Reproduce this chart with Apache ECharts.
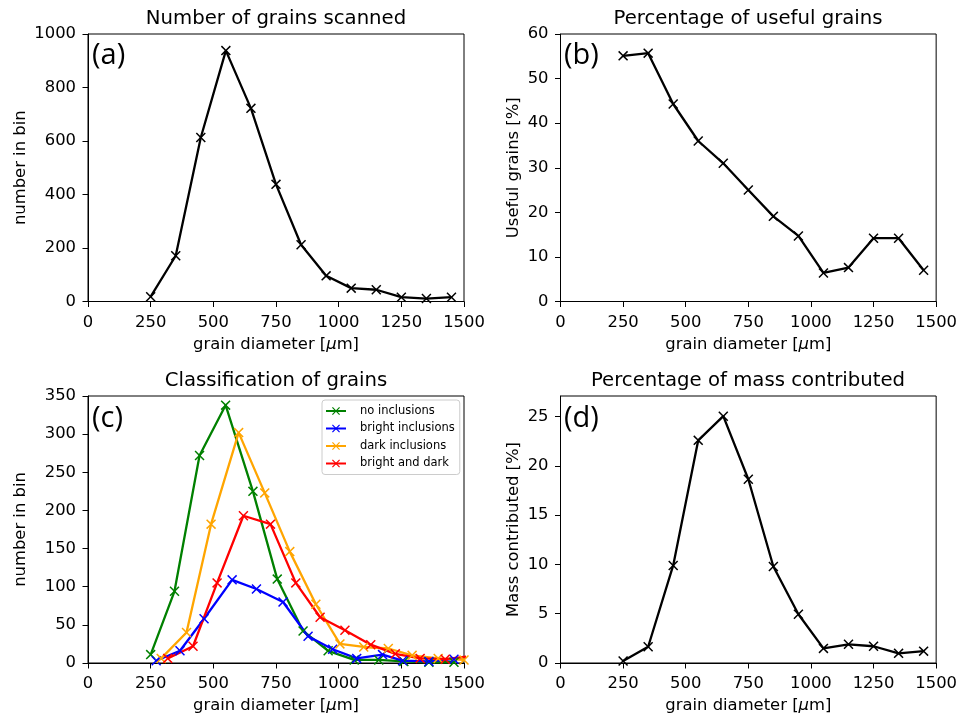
<!DOCTYPE html>
<html>
<head>
<meta charset="utf-8">
<script src="https://cdn.jsdelivr.net/npm/echarts@6/dist/echarts.min.js"></script>
<style>html,body{margin:0;padding:0;background:#fff;}#main{width:960px;height:715px;}</style>
</head>
<body>
<div id="main"></div>
<script>
// ---------- data ----------
const binCenters = [250, 350, 450, 550, 650, 750, 850, 950, 1050, 1150, 1250, 1350, 1450];
const grainsScanned = [18, 171, 613, 938, 722, 438, 212, 96, 50, 44, 16, 11, 16];
const usefulPercent = [55.1, 55.7, 44.3, 36.0, 31.0, 25.0, 19.1, 14.7, 6.4, 7.6, 14.2, 14.2, 7.0];
const massPercent = [0.2, 1.65, 9.9, 22.6, 25.05, 18.65, 9.8, 4.95, 1.48, 1.9, 1.7, 0.98, 1.2];

const noInclX = [250, 345, 445, 549, 658, 755, 858, 958, 1062, 1160, 1260, 1360, 1460];
const noInclY = [11, 94, 272, 338, 225, 110, 42, 16, 4, 4, 2, 1, 1];
const brightX = [272, 367, 463, 575, 672, 778, 878, 976, 1072, 1175, 1255, 1360, 1460];
const brightY = [3, 16, 58, 109, 97, 80, 35, 18, 6, 11, 3, 2, 5];
const darkX = [292, 393, 491, 601, 705, 805, 909, 1005, 1100, 1198, 1293, 1397, 1500];
const darkY = [6, 40, 182, 302, 223, 146, 77, 25, 21, 19, 10, 6, 4];
const bothX = [318, 419, 515, 620, 728, 829, 926, 1025, 1128, 1226, 1325, 1425, 1530];
const bothY = [6, 22, 105, 193, 182, 105, 60, 43, 24, 12, 6, 5, 9];

const xTicks = [0, 250, 500, 750, 1000, 1250, 1500];
const yTicksA = [0, 200, 400, 600, 800, 1000];
const yTicksB = [0, 10, 20, 30, 40, 50, 60];
const yTicksC = [0, 50, 100, 150, 200, 250, 300, 350];
const yTicksD = [0, 5, 10, 15, 20, 25];

const seriesNames = ['no inclusions', 'bright inclusions', 'dark inclusions', 'bright and dark'];
const seriesColors = ['#008000', '#0000ff', '#ffa500', '#ff0000'];

// ---------- helpers ----------
const FONT = 'DejaVu Sans';
const XMARK = 'path://M0,1.06L1.06,0L5,3.94L8.94,0L10,1.06L6.06,5L10,8.94L8.94,10L5,6.06L1.06,10L0,8.94L3.94,5Z';
const pairs = (xs, ys) => xs.map((x, i) => [x, ys[i]]);
const plain = v => String(v);

const grids = [
  {left: 88, top: 34, width: 376, height: 267.5},
  {left: 560.5, top: 34, width: 376, height: 267.5},
  {left: 88, top: 396, width: 376, height: 268},
  {left: 560.5, top: 396, width: 376, height: 268}
].map(g => Object.assign(g, {show: true, borderColor: '#000', borderWidth: 1, backgroundColor: '#fff'}));

function xAxis(i) {
  return {
    type: 'value', gridIndex: i, min: xTicks[0], max: xTicks[xTicks.length - 1], interval: 250,
    name: 'grain diameter [{i|μ}m]', nameLocation: 'middle', nameGap: 35,
    nameTextStyle: {fontFamily: FONT, fontSize: 16.4, color: '#000', rich: {i: {fontFamily: FONT, fontSize: 16.4, fontStyle: 'italic', color: '#000'}}},
    axisLine: {show: true, lineStyle: {color: '#000', width: 1}},
    axisTick: {show: true, length: 5.5, lineStyle: {color: '#000', width: 1}, customValues: xTicks},
    axisLabel: {fontFamily: FONT, fontSize: 16.4, color: '#000', margin: 13, formatter: plain, customValues: xTicks},
    splitLine: {show: false}
  };
}
function yAxis(i, ticks, max, name, gap) {
  const iv = ticks[1] - ticks[0];
  return {
    type: 'value', gridIndex: i, min: ticks[0], max: max, interval: iv,
    name: name, nameLocation: 'middle', nameGap: gap,
    nameTextStyle: {fontFamily: FONT, fontSize: 16.4, color: '#000'},
    axisLine: {show: true, lineStyle: {color: '#000', width: 1}},
    axisTick: {show: true, length: 5.5, lineStyle: {color: '#000', width: 1}, customValues: ticks},
    axisLabel: {fontFamily: FONT, fontSize: 16.4, color: '#000', margin: 12, formatter: plain, customValues: ticks},
    splitLine: {show: false}
  };
}
function blackSeries(i, ys) {
  return {
    type: 'line', xAxisIndex: i, yAxisIndex: i, data: pairs(binCenters, ys),
    symbol: XMARK, symbolSize: 10, showAllSymbol: true,
    lineStyle: {color: '#000', width: 2.3}, itemStyle: {color: '#000'},
    animation: false, silent: true
  };
}

const colorSeries = [[noInclX, noInclY], [brightX, brightY], [darkX, darkY], [bothX, bothY]].map((d, k) => ({
  type: 'line', name: seriesNames[k], xAxisIndex: 2, yAxisIndex: 2, data: pairs(d[0], d[1]),
  symbol: XMARK, symbolSize: 10, showAllSymbol: true, clip: true,
  lineStyle: {color: seriesColors[k], width: 2.3}, itemStyle: {color: seriesColors[k]},
  animation: false, silent: true
}));

function txt(x, y, text, size, family, align) {
  return {type: 'text', x: x, y: y, silent: true,
    style: {text: text, fill: '#000', font: size + 'px "' + family + '"', textAlign: align, textVerticalAlign: 'middle'}};
}

const option = {
  backgroundColor: '#fff',
  animation: false,
  grid: grids,
  xAxis: [xAxis(0), xAxis(1), xAxis(2), xAxis(3)],
  yAxis: [
    yAxis(0, yTicksA, 1000, 'number in bin', 59),
    yAxis(1, yTicksB, 60, 'Useful grains [%]', 39),
    yAxis(2, yTicksC, 350, 'number in bin', 59),
    yAxis(3, yTicksD, 27.1, 'Mass contributed [%]', 39)
  ],
  legend: {
    data: seriesNames, orient: 'vertical', left: 322, top: 400,
    backgroundColor: 'rgba(255,255,255,0.85)', borderColor: '#cccccc', borderWidth: 1, borderRadius: 3,
    padding: [4, 5, 4, 3], itemWidth: 20, itemHeight: 10, itemGap: 3.5,
    textStyle: {fontFamily: FONT, fontSize: 11.5, color: '#000', lineHeight: 14, padding: [0, 0, 0, 9]}
  },
  series: [
    blackSeries(0, grainsScanned),
    blackSeries(1, usefulPercent),
    ...colorSeries,
    blackSeries(3, massPercent)
  ],
  graphic: [
    txt(276, 19, 'Number of grains scanned', 19.7, FONT, 'center'),
    txt(748, 19, 'Percentage of useful grains', 19.7, FONT, 'center'),
    txt(276, 381, 'Classification of grains', 19.7, FONT, 'center'),
    txt(748, 381, 'Percentage of mass contributed', 19.7, FONT, 'center'),
    txt(92, 56, '(a)', 29, 'Open Sans', 'left'),
    txt(564, 56, '(b)', 29, 'Open Sans', 'left'),
    txt(92, 419, '(c)', 29, 'Open Sans', 'left'),
    txt(564, 419, '(d)', 29, 'Open Sans', 'left')
  ]
};

const chart = echarts.init(document.getElementById('main'), null, {renderer: 'canvas'});
chart.setOption(option);
</script>
</body>
</html>
